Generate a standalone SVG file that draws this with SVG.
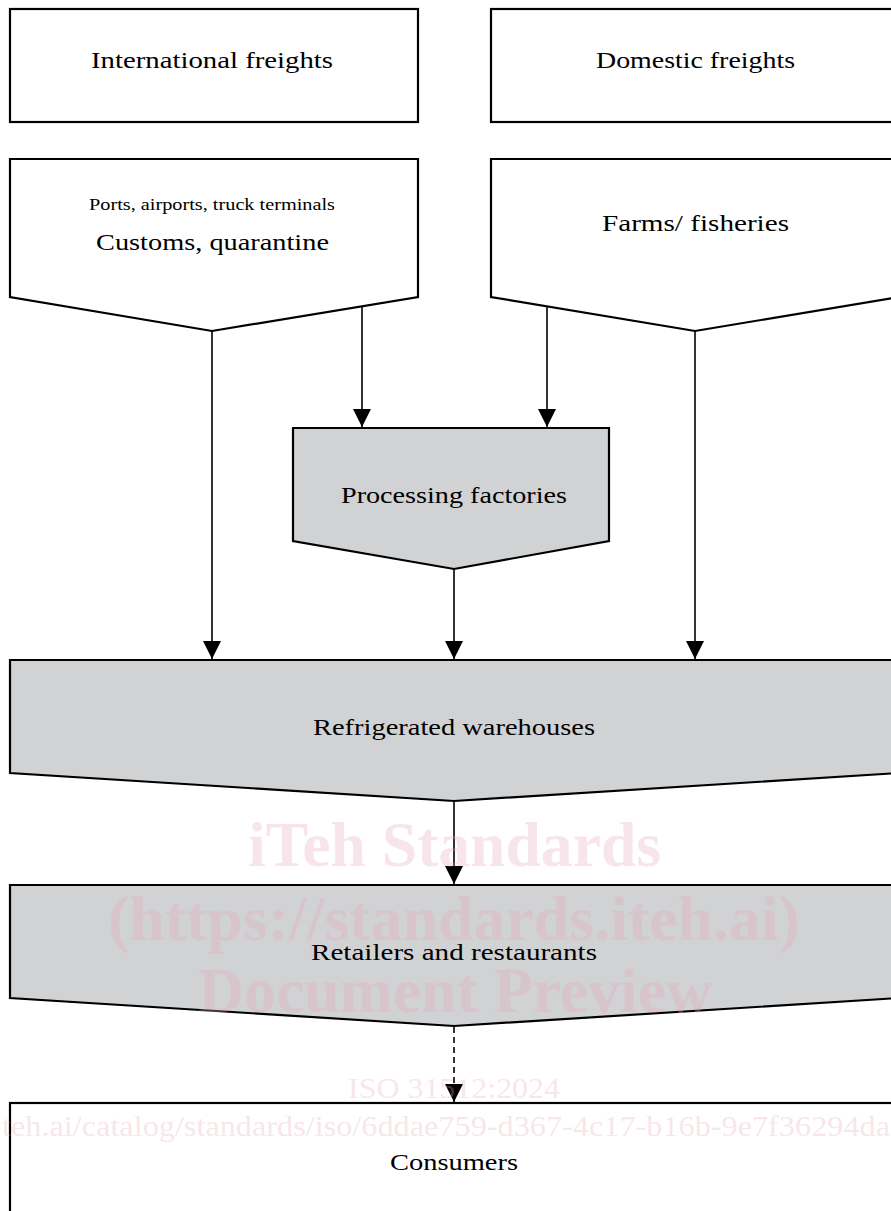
<svg xmlns="http://www.w3.org/2000/svg" width="891" height="1211" viewBox="0 0 891 1211">
<style>
.box{fill:#ffffff;stroke:#000;stroke-width:2.2;stroke-linejoin:miter}
.grey{fill:#d1d2d4;stroke:#000;stroke-width:2.2}
.lbl{font-family:"Liberation Serif","Times New Roman",serif;font-size:24px;fill:#000;text-anchor:middle}
.small{font-size:16px}
.conn{stroke:#000;stroke-width:1.6;fill:none}
.dash{stroke-dasharray:6,4}
.wm{font-family:"Liberation Serif","Times New Roman",serif;fill:#e9a8ba;fill-opacity:0.3;text-anchor:middle}
</style>
<defs>
<marker id="arr" markerUnits="userSpaceOnUse" markerWidth="20" markerHeight="20" viewBox="0 0 20 20" refX="18" refY="10" orient="auto">
<path d="M0,1 L18,10 L0,19 Z" fill="#000"/>
</marker>
</defs>
<rect width="891" height="1211" fill="#fff"/>

<g id="international">
<rect class="box" x="10" y="9" width="408" height="113"/>
<text class="lbl" x="212" y="68" textLength="242" lengthAdjust="spacingAndGlyphs">International freights</text>
</g>
<g id="domestic">
<rect class="box" x="491" y="9" width="408" height="113"/>
<text class="lbl" x="695.5" y="68" textLength="199" lengthAdjust="spacingAndGlyphs">Domestic freights</text>
</g>
<g id="customs">
<path class="box" d="M10,159 L418,159 L418,297 L212,331 L10,297 Z"/>
<text class="lbl small" x="212" y="210" textLength="246" lengthAdjust="spacingAndGlyphs">Ports, airports, truck terminals</text>
<text class="lbl" x="212.5" y="250" textLength="233" lengthAdjust="spacingAndGlyphs">Customs, quarantine</text>
</g>
<g id="farms">
<path class="box" d="M491,159 L899,159 L899,297 L695,331 L491,297 Z"/>
<text class="lbl" x="695.5" y="231" textLength="187" lengthAdjust="spacingAndGlyphs">Farms/ fisheries</text>
</g>
<g id="processing">
<path class="grey" d="M293,428 L609,428 L609,541 L454,569 L293,541 Z"/>
<text class="lbl" x="454" y="503" textLength="226" lengthAdjust="spacingAndGlyphs">Processing factories</text>
</g>
<g id="warehouses">
<path class="grey" d="M10,660 L899,660 L899,773 L454,801 L10,773 Z"/>
<text class="lbl" x="454" y="735" textLength="282" lengthAdjust="spacingAndGlyphs">Refrigerated warehouses</text>
</g>
<g id="retailers">
<path class="grey" d="M10,885 L899,885 L899,998 L454,1026 L10,998 Z"/>
<text class="lbl" x="454" y="960" textLength="286" lengthAdjust="spacingAndGlyphs">Retailers and restaurants</text>
</g>
<g id="consumers">
<rect class="box" x="10" y="1103" width="889" height="130"/>
<text class="lbl" x="454" y="1170" textLength="128" lengthAdjust="spacingAndGlyphs">Consumers</text>
</g>

<g id="connectors">
<line class="conn" x1="212" y1="331" x2="212" y2="659" marker-end="url(#arr)"/>
<line class="conn" x1="362" y1="307" x2="362" y2="427" marker-end="url(#arr)"/>
<line class="conn" x1="547" y1="307" x2="547" y2="427" marker-end="url(#arr)"/>
<line class="conn" x1="695" y1="331" x2="695" y2="659" marker-end="url(#arr)"/>
<line class="conn" x1="454" y1="569" x2="454" y2="659" marker-end="url(#arr)"/>
<line class="conn" x1="454" y1="801" x2="454" y2="884" marker-end="url(#arr)"/>
<line class="conn dash" x1="454" y1="1027" x2="454" y2="1102" marker-end="url(#arr)"/>
</g>

<g id="watermark">
<text class="wm" x="454.5" y="866" font-size="64" font-weight="bold" textLength="413" lengthAdjust="spacingAndGlyphs">iTeh Standards</text>
<text class="wm" x="454" y="940" font-size="64" font-weight="bold" textLength="692" lengthAdjust="spacingAndGlyphs">(https://standards.iteh.ai)</text>
<text class="wm" x="455" y="1012" font-size="64" font-weight="bold" textLength="514" lengthAdjust="spacingAndGlyphs">Document Preview</text>
<text class="wm" x="454" y="1098" font-size="30" textLength="212" lengthAdjust="spacingAndGlyphs">ISO 31512:2024</text>
<text class="wm" x="446" y="1136" font-size="30" textLength="888" lengthAdjust="spacingAndGlyphs">teh.ai/catalog/standards/iso/6ddae759-d367-4c17-b16b-9e7f36294da</text>
</g>
</svg>
